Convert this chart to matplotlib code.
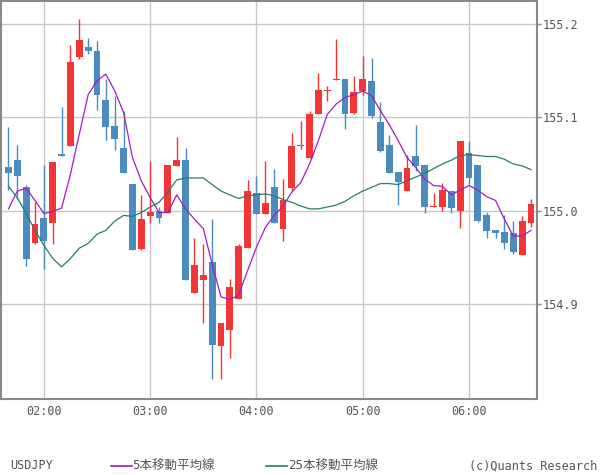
import matplotlib
matplotlib.use("Agg")
import matplotlib.pyplot as plt
from matplotlib.lines import Line2D
import pandas as pd

plt.rcParams['font.family'] = ['DejaVu Sans Mono', 'Noto Sans CJK JP']

# 5-minute candles, 01:40 - 06:35
times = pd.date_range("2024-01-01 01:40", periods=60, freq="5min")

opens = [155.047, 155.054, 155.025, 154.966, 154.992, 154.987, 155.061, 155.069, 155.164, 155.175,
         155.171, 155.118, 155.091, 155.067, 155.029, 154.959, 154.994, 155.000, 154.998, 155.048,
         155.054, 154.912, 154.926, 154.945, 154.855, 154.873, 154.906, 154.960, 155.019, 154.996,
         155.025, 154.980, 155.024, 155.069, 155.056, 155.103, 155.128, 155.140, 155.141, 155.104,
         155.128, 155.139, 155.095, 155.070, 155.041, 155.021, 155.059, 155.049, 155.004, 155.004,
         155.021, 155.000, 155.062, 155.049, 154.995, 154.979, 154.977, 154.976, 154.953, 154.987]
highs = [155.090, 155.070, 155.028, 155.009, 155.049, 155.052, 155.111, 155.177, 155.205, 155.185,
         155.181, 155.141, 155.123, 155.107, 155.029, 155.017, 155.053, 155.004, 155.049, 155.079,
         155.067, 154.971, 154.964, 154.991, 154.880, 154.927, 154.964, 155.033, 155.037, 155.053,
         155.045, 155.034, 155.083, 155.096, 155.107, 155.147, 155.133, 155.184, 155.141, 155.144,
         155.165, 155.163, 155.116, 155.081, 155.041, 155.060, 155.092, 155.049, 155.019, 155.030,
         155.021, 155.075, 155.075, 155.049, 154.999, 154.979, 154.995, 154.989, 154.994, 155.013]
lows = [155.022, 155.013, 154.941, 154.964, 154.938, 154.964, 155.058, 155.069, 155.162, 155.168,
        155.108, 155.076, 155.065, 155.040, 154.958, 154.958, 154.987, 154.987, 154.998, 155.048,
        154.926, 154.912, 154.880, 154.820, 154.820, 154.843, 154.906, 154.960, 154.997, 154.996,
        154.987, 154.968, 155.021, 155.066, 155.056, 155.103, 155.117, 155.140, 155.087, 155.103,
        155.124, 155.099, 155.063, 155.040, 155.006, 155.021, 155.042, 154.998, 155.004, 155.000,
        154.998, 154.982, 155.029, 154.988, 154.971, 154.971, 154.959, 154.954, 154.953, 154.983]
closes = [155.040, 155.037, 154.948, 154.986, 154.968, 155.052, 155.058, 155.159, 155.182, 155.171,
          155.124, 155.089, 155.077, 155.040, 154.958, 154.991, 154.999, 154.992, 155.049, 155.054,
          154.926, 154.942, 154.931, 154.856, 154.880, 154.919, 154.962, 155.021, 154.997, 155.008,
          154.987, 155.011, 155.069, 155.070, 155.103, 155.129, 155.129, 155.141, 155.103, 155.127,
          155.141, 155.101, 155.064, 155.040, 155.031, 155.046, 155.048, 155.004, 155.005, 155.022,
          155.003, 155.075, 155.035, 154.989, 154.978, 154.976, 154.966, 154.956, 154.989, 155.007]

ma5 = [155.002, 155.021, 155.024, 155.011, 154.997, 154.999, 155.003, 155.039, 155.082, 155.124,
       155.139, 155.146, 155.128, 155.105, 155.057, 155.032, 155.014, 154.998, 154.998, 155.017,
       155.002, 154.991, 154.981, 154.943, 154.908, 154.905, 154.910, 154.936, 154.961, 154.982,
       154.995, 155.005, 155.020, 155.030, 155.050, 155.075, 155.103, 155.114, 155.121, 155.124,
       155.128, 155.123, 155.107, 155.092, 155.075, 155.057, 155.046, 155.034, 155.027, 155.026,
       155.017, 155.022, 155.027, 155.022, 155.015, 155.011, 154.991, 154.973, 154.973, 154.979]
ma25 = [155.026, 155.014, 154.997, 154.979, 154.963, 154.949, 154.940, 154.949, 154.960, 154.965,
        154.975, 154.979, 154.989, 154.995, 154.994, 154.998, 155.004, 155.009, 155.020, 155.033,
        155.035, 155.035, 155.035, 155.028, 155.021, 155.017, 155.013, 155.016, 155.017, 155.018,
        155.016, 155.012, 155.009, 155.005, 155.002, 155.002, 155.004, 155.006, 155.010, 155.016,
        155.021, 155.025, 155.029, 155.029, 155.028, 155.032, 155.036, 155.040, 155.045, 155.050,
        155.054, 155.059, 155.060, 155.059, 155.058, 155.058, 155.055, 155.050, 155.048, 155.044]

y_ticks = [154.9, 155.0, 155.1, 155.2]

UP = "#f23535"
DOWN = "#4b8bbe"
GRID = "#c8c8c8"
TEXT = "#555555"

fig = plt.figure(figsize=(6, 4.75), dpi=100)
ax = fig.add_axes([0.002, 0.16, 0.893, 0.837])

x = list(range(len(times)))
for i in x:
    o, h, l, c = opens[i], highs[i], lows[i], closes[i]
    col = UP if c >= o else DOWN
    ax.vlines(i, l, h, color=col, linewidth=1, zorder=3)
    ax.bar(i, max(abs(c - o), 0.0012), bottom=min(o, c), width=0.78,
           color=col, linewidth=0, zorder=3)

ax.plot(x, ma5, color="#a01fc0", linewidth=0.9, zorder=4)
ax.plot(x, ma25, color="#2a7a70", linewidth=0.9, zorder=4)

tick_pos = [i for i, t in enumerate(times) if t.minute == 0]
ax.set_xticks(tick_pos)
ax.set_xticklabels([times[i].strftime("%H:%M") for i in tick_pos])
ax.set_xlim(-0.82, 59.68)

ax.set_ylim(154.7988, 155.2237)
ax.set_yticks(y_ticks)
ax.set_yticklabels([f"{v:.1f}" for v in y_ticks])
ax.yaxis.tick_right()

ax.grid(True, color=GRID, linewidth=1)
ax.set_axisbelow(True)
ax.tick_params(axis="x", length=0, pad=4, labelsize=8.5, labelcolor=TEXT)
ax.tick_params(axis="y", length=3, width=1, color="#888888", pad=1,
               labelsize=8.5, labelcolor=TEXT)
for s in ax.spines.values():
    s.set_color("#888888")
    s.set_linewidth(1.5)

# legend row
ly = 0.019
fig.text(0.017, ly, "USDJPY", fontsize=8.5, color=TEXT, va="center")
fig.add_artist(Line2D([0.185, 0.22], [ly, ly], color="#a01fc0", linewidth=1.2))
fig.text(0.221, ly, "5本移動平均線", fontsize=9, color=TEXT, va="center")
fig.add_artist(Line2D([0.444, 0.479], [ly, ly], color="#2a7a70", linewidth=1.2))
fig.text(0.480, ly, "25本移動平均線", fontsize=9, color=TEXT, va="center")
fig.text(0.996, ly, "(c)Quants Research", fontsize=8.5, color=TEXT, va="center", ha="right")

fig.savefig("out.png", dpi=100)
